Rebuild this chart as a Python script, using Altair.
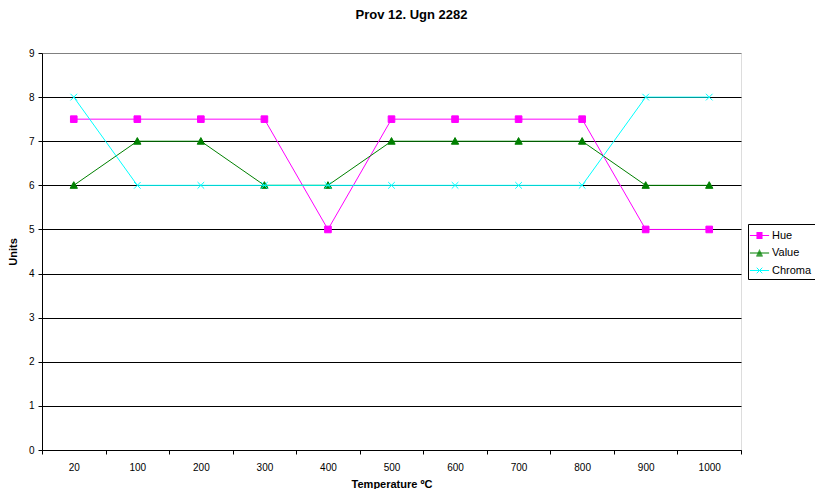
import altair as alt
import pandas as pd

temps = ["20", "100", "200", "300", "400", "500", "600", "700", "800", "900", "1000"]
hue = [7.5, 7.5, 7.5, 7.5, 5, 7.5, 7.5, 7.5, 7.5, 5, 5]
value = [6, 7, 7, 6, 6, 7, 7, 7, 7, 6, 6]
chroma = [8, 6, 6, 6, 6, 6, 6, 6, 6, 8, 8]

series_names = ["Hue", "Value", "Chroma"]
series_colors = ["#FF00FF", "#008000", "#00FFFF"]

rows = []
for name, vals in zip(series_names, [hue, value, chroma]):
    for t, v in zip(temps, vals):
        rows.append({"temp": t, "series": name, "units": v})
df = pd.DataFrame(rows)

FONT = "Liberation Sans"

marker_paths = [
    "M-1,-1H1V1H-1Z",
    "M0,-1.1L1.1,0.9H-1.1Z",
    "M-1,-1L1,1M-1,1L1,-1",
]
# legend symbols: a line segment with the marker drawn over it
L = "M-1.2,0H1.2"
sq = L + "".join(f"M-0.38,{y/8:.3f}H0.38" for y in range(-3, 4))
tri = L + "".join(
    f"M{-(0.05 + 0.06 * (k + 3)):.3f},{k/8:.3f}H{(0.05 + 0.06 * (k + 3)):.3f}" for k in range(-3, 4)
)
xx = L + "M-0.35,-0.35L0.35,0.35M-0.35,0.35L0.35,-0.35"
legend_paths = [sq, tri, xx]

x_enc = alt.X(
    "temp:O",
    sort=temps,
    scale=alt.Scale(type="band", paddingInner=0, paddingOuter=0),
    axis=alt.Axis(
        title="Temperature ºC",
        labelAngle=0,
        tickBand="extent",
        grid=False,
        domainColor="black",
        tickColor="black",
        tickSize=4,
        labelPadding=8,
        titlePadding=6,
    ),
)
y_enc = alt.Y(
    "units:Q",
    scale=alt.Scale(domain=[0, 9], nice=False, zero=True),
    axis=alt.Axis(
        title="Units",
        values=list(range(0, 10)),
        grid=True,
        gridColor={"condition": {"test": "datum.value === 9", "value": "#808080"}, "value": "black"},
        gridOpacity=1,
        domainColor="black",
        tickColor="black",
        tickSize=4,
        labelPadding=4,
        titlePadding=10,
    ),
)

series_layers = []
for name, col, path in zip(series_names, series_colors, marker_paths):
    base = alt.Chart(df).transform_filter(alt.datum.series == name)
    series_layers.append(base.mark_line(strokeWidth=1, color=col).encode(x=x_enc, y=y_enc))
    series_layers.append(
        base.mark_point(filled=True, size=44, strokeWidth=1, opacity=1, shape=path, fill=col, stroke=col)
        .encode(x=x_enc, y=y_enc)
    )

legend_props = dict(
    title=None,
    orient="none",
    legendX=706,
    legendY=171,
    symbolSize=256,
    symbolStrokeWidth=1,
    symbolOpacity=1,
    labelFont=FONT,
    labelFontSize=11,
    labelColor="black",
    labelOffset=4,
    rowPadding=3.5,
    padding=3,
    strokeColor="black",
    fillColor="white",
)

color_scale = alt.Scale(domain=series_names, range=series_colors)
legend_layer = alt.Chart(df).mark_point(filled=False, opacity=0, size=1).encode(
    x=x_enc,
    y=y_enc,
    color=alt.Color("series:N", scale=color_scale, legend=alt.Legend(**legend_props)),
    shape=alt.Shape(
        "series:N",
        scale=alt.Scale(domain=series_names, range=legend_paths),
        legend=alt.Legend(**legend_props),
    ),
)

chart = (
    alt.layer(*series_layers, legend_layer)
    .properties(
        width=699,
        height=397,
        autosize=alt.AutoSizeParams(type="none"),
        padding={"left": 34, "top": 45, "right": 74, "bottom": 39},
        title=alt.TitleParams(
            "Prov 12. Ugn 2282",
            font=FONT,
            fontSize=13,
            fontWeight="bold",
            color="black",
            anchor="middle",
            dx=20,
            offset=26,
        ),
    )
    .configure_view(stroke="#808080", strokeWidth=1)
    .configure_axis(
        labelFont=FONT,
        labelFontSize=11,
        labelColor="black",
        titleFont=FONT,
        titleFontSize=11,
        titleFontWeight="bold",
        titleColor="black",
    )
    .configure(background="white")
)

chart.save("out.html", embed_options={"renderer": "svg", "actions": False})
